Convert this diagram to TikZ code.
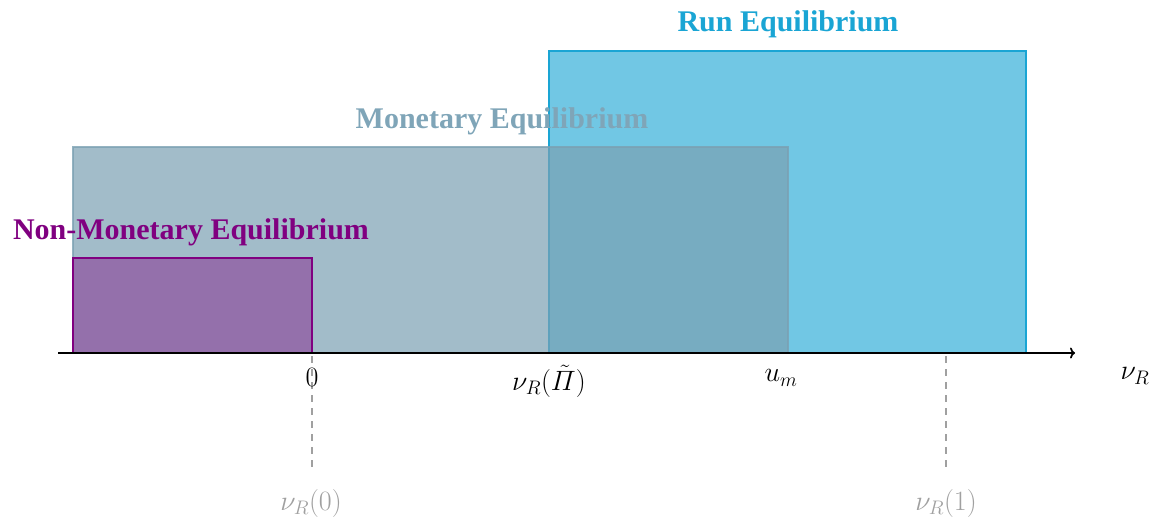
\RequirePackage{fix-cm}
\documentclass[tikz,border=0pt]{standalone}
\usepackage{amsmath}
\usepackage{fontspec}
\setmainfont{Liberation Serif}
\usetikzlibrary{arrows.meta}
\definecolor{purp}{HTML}{800080}
\definecolor{mon}{HTML}{7BA0B2}
\definecolor{monlab}{HTML}{7FA5B8}
\definecolor{run}{HTML}{1AA5D4}
\definecolor{gr}{HTML}{A0A0A0}
\tikzset{
  eqlabel/.style={font=\fontsize{30}{34}\selectfont\bfseries, inner sep=0pt},
  mlabel/.style={font=\fontsize{28}{32}\selectfont, inner sep=0pt},
  guide/.style={gr, line width=1.3pt, dash pattern=on 7pt off 6pt},
}
\begin{document}
\begin{tikzpicture}[x=1pt,y=-1pt]
\useasboundingbox (0,0) rectangle (1153,520);
% run equilibrium
\fill[run, fill opacity=0.62] (549,51) rectangle (1026,353);
\draw[run, line width=1.5pt] (549,353) -- (549,51) -- (1026,51) -- (1026,353);
% monetary equilibrium
\fill[mon, fill opacity=0.7] (73,147) rectangle (788,353);
\draw[mon, line width=1.5pt, draw opacity=0.8] (73,353) -- (73,147) -- (788,147) -- (788,353);
% non-monetary
\fill[purp, fill opacity=0.4] (73,258) rectangle (312,353);
\draw[purp, line width=1.5pt] (73,353) -- (73,258) -- (312,258) -- (312,353);
% labels
\node[eqlabel, text=run] (lrun) at (788,24) {Run Equilibrium};
\node[eqlabel, text=monlab] (lmon) at (502,121) {Monetary Equilibrium};
\node[eqlabel, text=purp] (lnon) at (191,232) {Non-Monetary Equilibrium};
% axis
\coordinate (a0) at (58,353);
\coordinate (a1) at (1075,353);
\draw[line width=1.7pt, -{To[length=5pt,width=11pt]}] (a0) -- (a1);
% guides
\coordinate (g0t) at (312,356);
\coordinate (g0b) at (312,472);
\coordinate (g1t) at (946,356);
\coordinate (g1b) at (946,472);
\draw[guide] (g0t) -- (g0b);
\draw[guide] (g1t) -- (g1b);
% tick labels
\node[mlabel] (t0) at (312,377) {$0$};
\node[mlabel] (tpi) at (549,381) {$\nu_R(\tilde{\varPi})$};
\node[mlabel] (tum) at (781,378) {$u_m$};
\node[mlabel] (tnu) at (1135,376) {$\nu_R$};
\node[mlabel, text=gr] (b0) at (311,503) {$\nu_R(0)$};
\node[mlabel, text=gr] (b1) at (946,503) {$\nu_R(1)$};
\end{tikzpicture}
\end{document}
